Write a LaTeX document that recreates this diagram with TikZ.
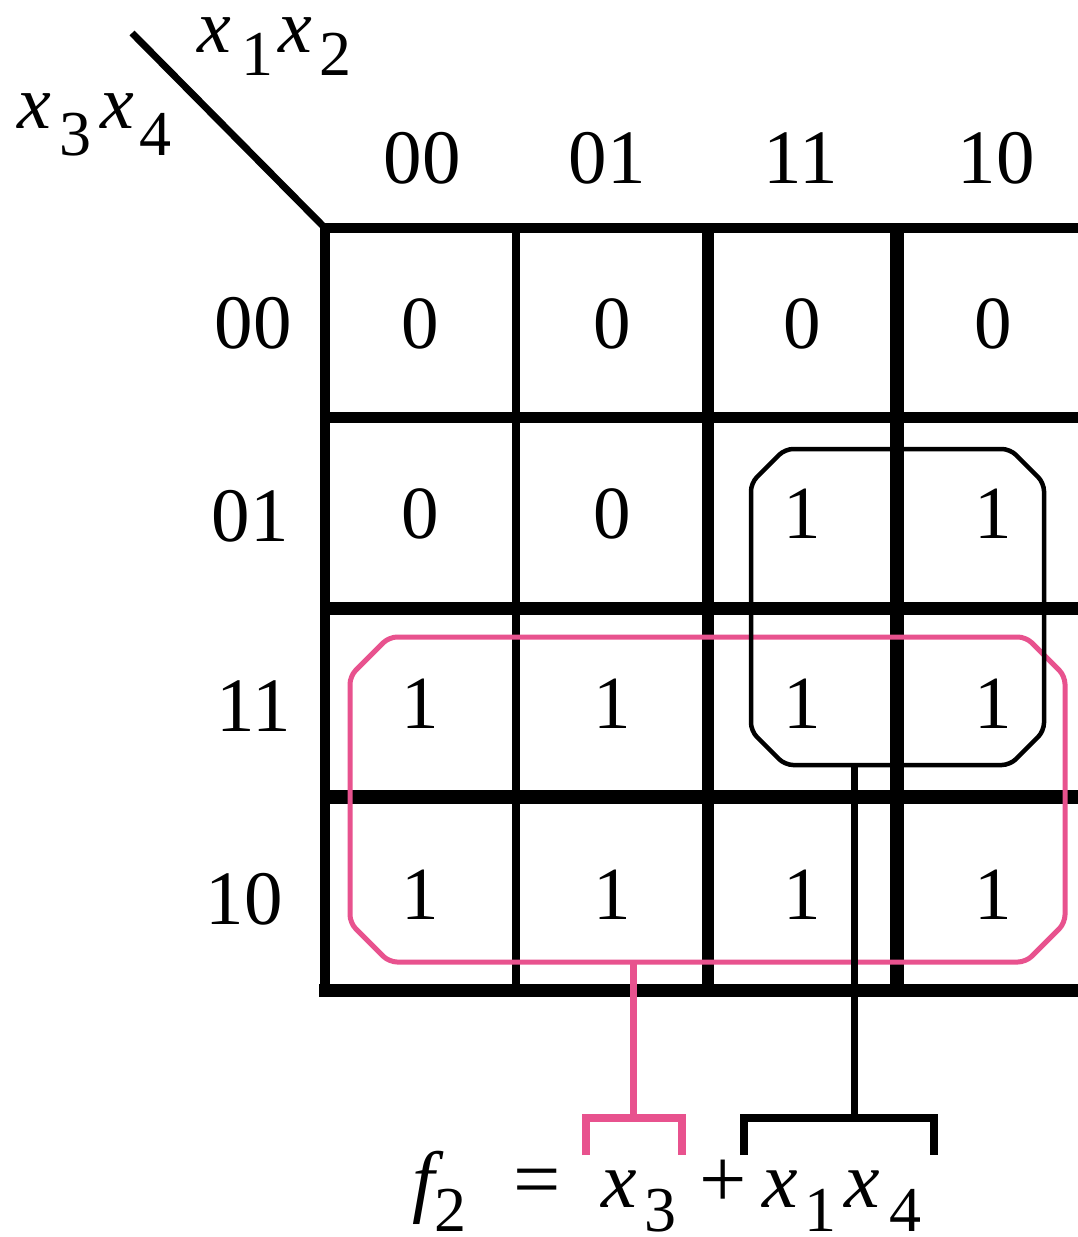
\documentclass[tikz,border=0pt]{standalone}
\usepackage{fontspec}
\setmainfont{Liberation Serif}
\definecolor{pinkc}{RGB}{232,82,142}
\begin{document}
\begin{tikzpicture}[x=1pt,y=-1pt,
  digit/.style={font=\fontsize{75}{80}\selectfont, inner sep=0pt, outer sep=0pt},
  hdr/.style={font=\fontsize{77}{80}\selectfont, inner sep=0pt, outer sep=0pt},
  ivar/.style={font=\fontsize{76}{80}\selectfont\itshape, inner sep=0pt, outer sep=0pt, anchor=base west},
  fvar/.style={font=\fontsize{80}{84}\selectfont\itshape, inner sep=0pt, outer sep=0pt, anchor=base west},
  isub/.style={font=\fontsize{64}{70}\selectfont, inner sep=0pt, outer sep=0pt, anchor=base west},
  gridline/.style={draw=black, line cap=butt},
  loopline/.style={line join=round, rounded corners=8pt},
  bracket/.style={line width=8, line cap=butt, line join=miter}
]
\useasboundingbox (0,0) rectangle (1078,1237);
\clip (0,0) rectangle (1078,1237);
\fill[white] (0,0) rectangle (1078,1237);

% diagonal
\coordinate (dtop) at (132,33);
\coordinate (corner) at (325,228);
\draw[line width=7] (dtop) -- (corner);

% header variables
\node[ivar] (hx1) at (197,52) {x};
\node[isub] (h1) at (241,75) {1};
\node[ivar] (hx2) at (278,52) {x};
\node[isub] (h2) at (319,75) {2};
\node[ivar] (hx3) at (17,128) {x};
\node[isub] (h3) at (59,155) {3};
\node[ivar] (hx4) at (100,128) {x};
\node[isub] (h4) at (139,155) {4};

% column labels
\node[hdr] (c00) at (422,158) {00};
\node[hdr] (c01) at (607,158) {01};
\node[hdr] (c11) at (801,158) {11};
\node[hdr] (c10) at (996,158) {10};
% row labels
\node[hdr] (r00) at (253,323) {00};
\node[hdr] (r01) at (250,516) {01};
\node[hdr] (r11) at (254,706) {11};
\node[hdr] (r10) at (244,899) {10};

% grid
\draw[gridline, line width=10] (325,223) -- (325,996);
\draw[gridline, line width=8] (516,228) -- (516,990);
\draw[gridline, line width=12] (708,228) -- (708,990);
\draw[gridline, line width=14] (897,228) -- (897,990);
\draw[gridline, line width=12] (1089,228) -- (1089,990);
\draw[gridline, line width=10] (320,228) -- (1100,228);
\draw[gridline, line width=11] (325,417) -- (1100,417);
\draw[gridline, line width=13] (320,608) -- (1100,608);
\draw[gridline, line width=14] (320,797) -- (1100,797);
\draw[gridline, line width=13] (319,990) -- (1100,990);

% cell values
\foreach \r/\y in {0/324,1/514,2/704,3/895}{
  \foreach \c/\x in {0/420,1/612,2/802,3/993}{
    \pgfmathtruncatemacro{\v}{(\r>0 && \c>1) || \r>1 ? 1 : 0}
    \node[digit] (m\r\c) at (\x,\y) {\v};
  }
}

% pink loop (x3)
\draw[pinkc, line width=5, loopline]
  (389,637) -- (1026,637) -- (1065,676) -- (1065,923) -- (1026,962)
  -- (389,962) -- (350,923) -- (350,676) -- cycle;
% black loop (x1 x4)
\draw[black, line width=4.5, loopline]
  (785,449) -- (1010,449) -- (1044,483) -- (1044,731) -- (1010,765)
  -- (785,765) -- (751,731) -- (751,483) -- cycle;

% connectors
\coordinate (pinkloop) at (633,962);
\coordinate (pinkjoin) at (633,1118);
\coordinate (blackloop) at (854,765);
\coordinate (blackjoin) at (854,1118);
\draw[pinkc, line width=7] (pinkloop) -- (pinkjoin);
\draw[black, line width=7] (blackloop) -- (blackjoin);
\draw[pinkc, bracket] (586,1155) -- (586,1118) -- (682,1118) -- (682,1155);
\draw[black, bracket] (744,1155) -- (744,1118) -- (934,1118) -- (934,1155);

% formula
\node[fvar] (ff) at (412,1207) {f};
\node[isub] (f2) at (434,1231) {2};
\node[fvar, font=\fontsize{84}{90}\selectfont] (eq) at (513,1207) {=};
\node[fvar] (fx3) at (601,1207) {x};
\node[isub] (s3) at (644,1231) {3};
\node[fvar, font=\fontsize{84}{90}\selectfont] (plus) at (699,1207) {+};
\node[fvar] (fx1) at (762,1207) {x};
\node[isub] (s1) at (804,1231) {1};
\node[fvar] (fx4) at (844,1207) {x};
\node[isub] (s4) at (889,1231) {4};
\end{tikzpicture}
\end{document}
